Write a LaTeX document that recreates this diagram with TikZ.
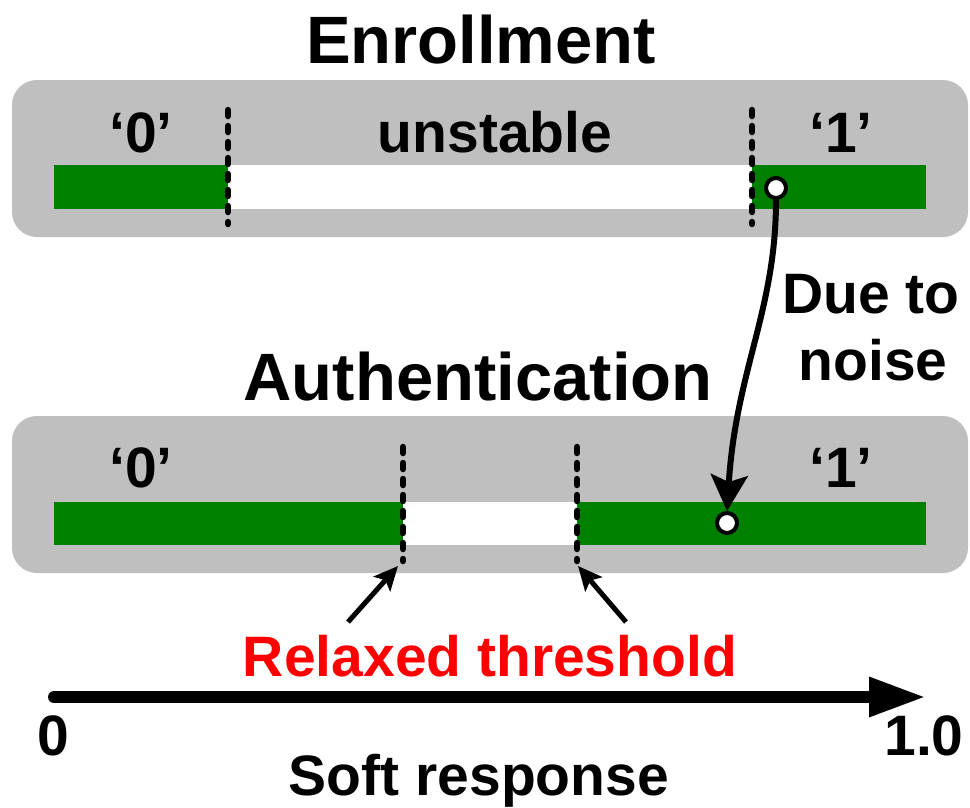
\documentclass[tikz,border=0pt]{standalone}
\usepackage{fontspec}
\setmainfont{Liberation Sans}
\usetikzlibrary{arrows.meta}
\definecolor{boxgray}{RGB}{191,191,191}
\definecolor{bargreen}{RGB}{0,128,0}
\begin{document}
\begin{tikzpicture}[x=1pt,y=-1pt,
  panel/.style={fill=boxgray,rounded corners=25pt},
  bar/.style={fill=bargreen},
  gap/.style={fill=white},
  thr/.style={line width=6.5pt,dash pattern=on 6pt off 10pt,line cap=round},
  dot/.style={circle,draw=black,fill=white,line width=4pt,minimum size=20pt,inner sep=0pt},
  big/.style={font=\fontsize{67}{70}\selectfont\bfseries,inner sep=0pt,anchor=base},
  lab/.style={font=\fontsize{57}{60}\selectfont\bfseries,inner sep=0pt,anchor=base},
  pointer/.style={line width=5pt,-{Stealth[length=24pt,width=22pt,inset=5pt]}}]
\useasboundingbox (0,0) rectangle (970,807);

% Enrollment panel
\node[big] (enr) at (481,63) {Enrollment};
\fill[panel] (12,80) rectangle (968,237);
\fill[bar] (54,165) rectangle (926,209);
\fill[gap] (228,165) rectangle (752,209);
\coordinate (e1t) at (228,110); \coordinate (e1b) at (228,224);
\coordinate (e2t) at (752,110); \coordinate (e2b) at (752,224);
\draw[thr] (e1t) -- (e1b);
\draw[thr] (e2t) -- (e2b);
\node[lab] (e0) at (141,152) {‘0’};
\node[lab] (eu) at (495,152) {unstable};
\node[lab] (e1) at (841,152) {‘1’};

% Authentication panel
\node[big] (aut) at (478,400) {Authentication};
\fill[panel] (12,416) rectangle (968,573);
\fill[bar] (54,502) rectangle (926,545);
\fill[gap] (403,502) rectangle (577,545);
\coordinate (a1t) at (403,447); \coordinate (a1b) at (403,561);
\coordinate (a2t) at (577,447); \coordinate (a2b) at (577,561);
\draw[thr] (a1t) -- (a1b);
\draw[thr] (a2t) -- (a2b);
\node[lab] (a0) at (141,487) {‘0’};
\node[lab] (a1) at (841,487) {‘1’};

% noise transition
\node[dot] (p1) at (776,188) {};
\node[dot] (p2) at (727,523) {};
\draw[line width=6pt,-{Stealth[length=36pt,width=37pt,inset=7pt]}]
  (p1.south) .. controls (776,310) and (736,370) .. (p2.north);
\node[lab] (due) at (871,313) {Due to};
\node[lab] (noi) at (873,380) {noise};

% relaxed threshold pointers
\coordinate (r1) at (348,622);
\coordinate (r2) at (626,622);
\coordinate (r1e) at (398,566);
\coordinate (r2e) at (578,566);
\draw[pointer] (r1) -- (r1e);
\draw[pointer] (r2) -- (r2e);
\node[lab,text=red] (rel) at (490,676) {Relaxed threshold};

% axis
\coordinate (ax0) at (54,697);
\coordinate (ax1) at (926,697);
\draw[line width=12pt,line cap=round,-{Triangle[length=57pt,width=37pt]}] (ax0) -- (ax1);
\node[lab] (z) at (53,755) {0};
\node[lab] (one) at (924,755) {1.0};
\node[lab] (soft) at (479,795) {Soft response};
\end{tikzpicture}
\end{document}
